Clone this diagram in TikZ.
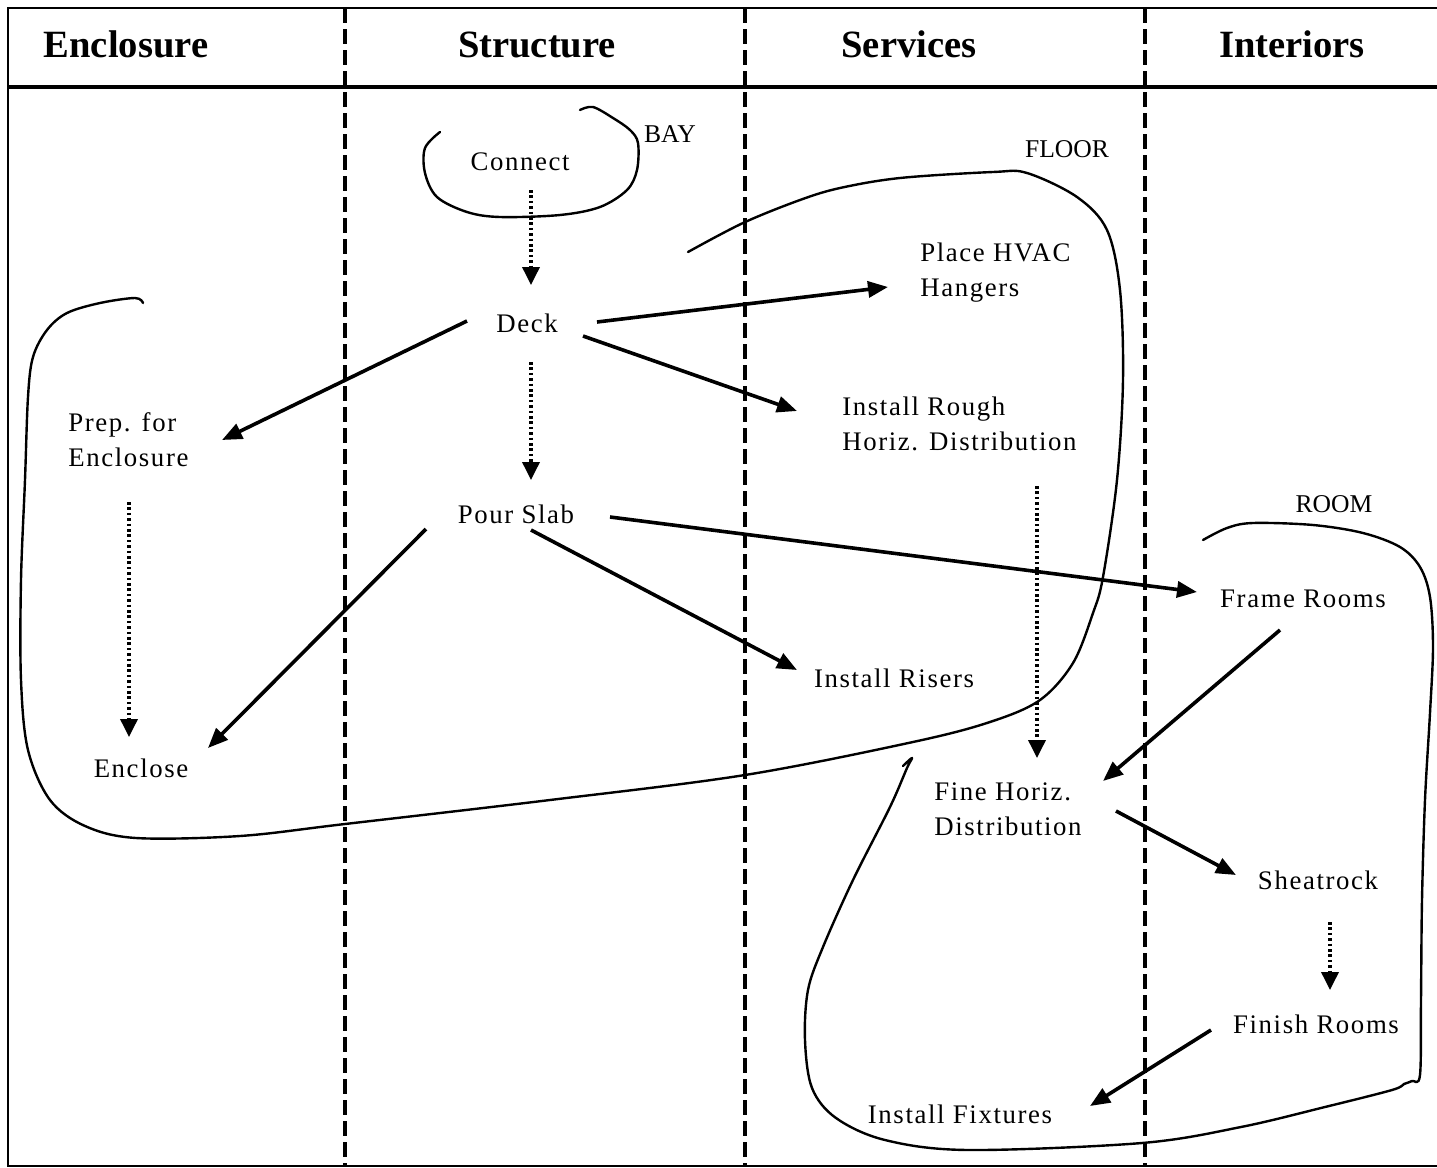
\documentclass[tikz,border=0pt]{standalone}
\usepackage{fontspec}
\setmainfont{Liberation Serif}
\newfontfamily\taskfont[LetterSpace=6]{Liberation Serif}
\usetikzlibrary{arrows.meta}

\begin{document}
\begin{tikzpicture}[x=0.5pt,y=-0.5pt,
  frameline/.style={line width=1.1pt},
  headline/.style={line width=1.7pt},
  lane/.style={line width=1.8pt, dash pattern=on 7.5pt off 3pt},
  colhead/.style={font=\fontsize{19.3}{22}\selectfont\bfseries, inner sep=0, anchor=base},
  task/.style={font=\taskfont\fontsize{13.4}{17.5}\selectfont, inner sep=0, align=left},
  zone/.style={font=\fontsize{12.8}{15}\selectfont, inner sep=0, anchor=base},
  link/.style={line width=1.8pt, -{Triangle[length=10pt,width=8pt]}},
  seq/.style={line width=1.8pt, dash pattern=on 1.3pt off 1.4pt, -{Triangle[length=9pt,width=8.5pt]}},
  hand/.style={line width=1.2pt, line cap=round, line join=round}
]
\useasboundingbox (0,0) rectangle (1437,1168);

% frame and header rule
\draw[frameline] (1437,8) -- (8,8) -- (8,1166) -- (1437,1166);
\draw[headline] (8,87) -- (1437,87);

% column dividers
\foreach \x in {345,745,1145} \draw[lane] (\x,8) -- (\x,1166);

% column headings
\node[colhead] (hEnc) at (126,57) {Enclosure};
\node[colhead] (hStr) at (537,57) {Structure};
\node[colhead] (hSer) at (909,57) {Services};
\node[colhead] (hInt) at (1292,57) {Interiors};

% activities (two-line nodes are placed by the baseline of their last line)
\node[task, anchor=base] (connect) at (520,170) {Connect};
\node[task, anchor=base] (deck) at (527,332) {Deck};
\node[task, anchor=base] (slab) at (516,523) {Pour Slab};
\node[task, anchor=base west] (prep) at (68,466) {Prep. for\\Enclosure};
\node[task, anchor=base] (enclose) at (141,777) {Enclose};
\node[task, anchor=base west] (hvac) at (920,296) {Place HVAC\\Hangers};
\node[task, anchor=base west] (rough) at (842,450) {Install Rough\\Horiz. Distribution};
\node[task, anchor=base] (risers) at (894,687) {Install Risers};
\node[task, anchor=base] (frame) at (1303,607) {Frame Rooms};
\node[task, anchor=base west] (fine) at (934,835) {Fine Horiz.\\Distribution};
\node[task, anchor=base] (sheat) at (1318,889) {Sheatrock};
\node[task, anchor=base] (finish) at (1316,1033) {Finish Rooms};
\node[task, anchor=base] (fixtures) at (960,1123) {Install Fixtures};

% zone labels
\node[zone] (bay) at (670,142) {BAY};
\node[zone] (floor) at (1067,157) {FLOOR};
\node[zone] (room) at (1334,512) {ROOM};

% precedence links
\draw[link] ([shift={(70,-10)}]deck.base) -- ([shift={(-32,-9)}]hvac.base west);
\draw[link] ([shift={(-60,-11)}]deck.base) -- ([shift={(154,-26)}]prep.base west);
\draw[link] ([shift={(56,4)}]deck.base) -- ([shift={(-45,-39)}]rough.base west);
\draw[link] ([shift={(-90,6)}]slab.base) -- ([shift={(67,-29)}]enclose.base);
\draw[link] ([shift={(94,-6)}]slab.base) -- ([shift={(-106,-15)}]frame.base);
\draw[link] ([shift={(15,7)}]slab.base) -- ([shift={(-97,-17)}]risers.base);
\draw[link] ([shift={(-23,23)}]frame.base) -- ([shift={(169,-54)}]fine.base west);
\draw[link] ([shift={(182,-24)}]fine.base west) -- ([shift={(-82,-14)}]sheat.base);
\draw[link] ([shift={(-105,-3)}]finish.base) -- ([shift={(130,-17)}]fixtures.base);

% sequence links (dotted)
\draw[seq] ([shift={(11,20)}]connect.base) -- ([shift={(4,-47)}]deck.base);
\draw[seq] ([shift={(4,30)}]deck.base) -- ([shift={(15,-43)}]slab.base);
\draw[seq] ([shift={(61,36)}]prep.base west) -- ([shift={(-12,-40)}]enclose.base);
\draw[seq] ([shift={(195,36)}]rough.base west) -- ([shift={(103,-77)}]fine.base west);
\draw[seq] ([shift={(12,33)}]sheat.base) -- ([shift={(14,-43)}]finish.base);

% BAY outline
\draw[hand] plot[smooth, tension=0.55] coordinates {
  (580,110) (593,107) (613,118) (630,130) (638,143) (637,170) (627,190)
  (600,207) (560,215) (500,217) (467,212) (437,197) (425,173) (425,148) (440,132)};

% FLOOR outline
\draw[hand] plot[smooth, tension=0.55] coordinates {
  (143,303) (135,298) (100,303) (67,313) (47,330) (33,357) (28,397) (25,480)
  (21,580) (21,680) (28,750) (50,800) (85,826) (136,838) (240,836) (345,824)
  (550,800) (745,775) (913,742) (990,722) (1040,700) (1073,663)
  (1093,613) (1103,577) (1117,480) (1123,380) (1120,290) (1107,230) (1077,197)
  (1027,173) (993,172) (900,178) (840,188) (800,200) (743,223) (688,252)};

% ROOM outline
\draw[hand] plot[smooth, tension=0.55] coordinates {
  (1203,540) (1227,528) (1253,523) (1313,525) (1363,533) (1400,547) (1420,567)
  (1430,597) (1433,647) (1430,713) (1425,800) (1422,900) (1421,1000) (1420,1075)
  (1412,1081) (1404,1084) (1392,1090) (1325,1107) (1241,1127) (1142,1143)
  (968,1150) (885,1140) (836,1118) (812,1088) (805,1040) (808,990) (823,947)
  (853,880) (890,807) (907,768) (912,758) (903,766)};

\end{tikzpicture}
\end{document}
